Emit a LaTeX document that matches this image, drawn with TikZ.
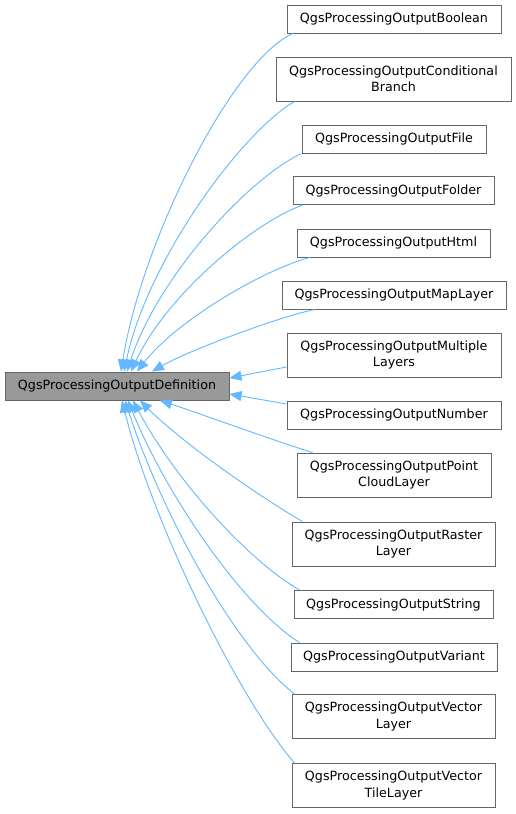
\documentclass[tikz,border=0pt]{standalone}
\usepackage{fontspec}
\setmainfont{DejaVu Sans}
\usetikzlibrary{arrows.meta,calc}
\definecolor{edgeblue}{HTML}{63B8FF}
\definecolor{boxgray}{HTML}{666666}
\definecolor{basefill}{HTML}{999999}
\begin{document}
\begin{tikzpicture}[x=1pt,y=1pt,
  box/.style={draw=boxgray, fill=white, line width=1pt, inner sep=0pt, align=center,
    font=\fontsize{12.7}{16.5}\selectfont, minimum height=28pt},
  tall/.style={minimum height=44pt},
  edge/.style={draw=edgeblue, line width=0.9pt, -{Triangle[length=12pt,width=10pt]}}]
\fill[white] (0,0) rectangle (516,-814);
\useasboundingbox (0,0) rectangle (516,-814);

\node[box, fill=basefill, minimum width=224pt] (base) at (117,-386) {QgsProcessingOutputDefinition};

\node[box, minimum width=214pt] (bool) at (394,-19) {QgsProcessingOutputBoolean};
\node[box, tall, minimum width=235pt] (cond) at (393.5,-79) {QgsProcessingOutputConditional\\Branch};
\node[box, minimum width=184pt] (file) at (394,-139) {QgsProcessingOutputFile};
\node[box, minimum width=201pt] (folder) at (393.5,-190.5) {QgsProcessingOutputFolder};
\node[box, minimum width=193pt] (html) at (393.5,-243) {QgsProcessingOutputHtml};
\node[box, minimum width=224pt] (map) at (394,-295) {QgsProcessingOutputMapLayer};
\node[box, tall, minimum width=214pt] (multi) at (394,-355) {QgsProcessingOutputMultiple\\Layers};
\node[box, minimum width=214pt] (number) at (394,-415) {QgsProcessingOutputNumber};
\node[box, tall, minimum width=194pt] (pc) at (394,-475) {QgsProcessingOutputPoint\\CloudLayer};
\node[box, tall, minimum width=203pt] (raster) at (393.5,-544) {QgsProcessingOutputRaster\\Layer};
\node[box, minimum width=199pt] (string) at (393.5,-604.5) {QgsProcessingOutputString};
\node[box, minimum width=206pt] (variant) at (394,-657) {QgsProcessingOutputVariant};
\node[box, tall, minimum width=203pt] (vector) at (393.5,-716.5) {QgsProcessingOutputVector\\Layer};
\node[box, tall, minimum width=203pt] (vtile) at (393.5,-785.5) {QgsProcessingOutputVector\\TileLayer};

\draw[edge] ($(bool.south west)+(6,0)$) to[out=205,in=81,out distance=68pt,in distance=130pt] ($(base.north)+(4,0)$);
\draw[edge] ($(cond.south west)+(19,0)$) to[out=210,in=78,out distance=60pt,in distance=115pt] ($(base.north)+(7,0)$);
\draw[edge] (file.south west) to[out=205,in=72,out distance=58pt,in distance=100pt] ($(base.north)+(10,0)$);
\draw[edge] ($(folder.south west)+(10,0)$) to[out=200,in=65,out distance=52pt,in distance=85pt] ($(base.north)+(14,0)$);
\draw[edge] ($(html.south west)+(13,0)$) to[out=195,in=52,out distance=48pt,in distance=65pt] ($(base.north)+(20,0)$);
\draw[edge] ($(map.south west)+(33,0)$) to[out=192,in=30,out distance=40pt,in distance=40pt] ($(base.north)+(35,0)$);
\draw[edge] ($(multi.west)+(0,-12)$) -- ($(base.east)+(0,8)$);
\draw[edge] ($(number.west)+(0,11)$) -- ($(base.east)+(0,-8)$);
\draw[edge] ($(pc.north west)+(16,0)$) to[out=163,in=-18,out distance=40pt,in distance=40pt] ($(base.south)+(43,0)$);
\draw[edge] ($(raster.north west)+(11,0)$) to[out=150,in=-45,out distance=50pt,in distance=60pt] ($(base.south)+(23,0)$);
\draw[edge] ($(string.north west)+(6,0)$) to[out=150,in=-62,out distance=60pt,in distance=90pt] ($(base.south)+(16,0)$);
\draw[edge] ($(variant.north west)+(9,0)$) to[out=148,in=-68,out distance=65pt,in distance=105pt] ($(base.south)+(11,0)$);
\draw[edge] ($(vector.north west)+(3,0)$) to[out=142,in=-72,out distance=75pt,in distance=120pt] ($(base.south)+(8,0)$);
\draw[edge] ($(vtile.north west)+(3,0)$) to[out=131,in=-76,out distance=86pt,in distance=125pt] ($(base.south)+(5,0)$);
\end{tikzpicture}
\end{document}
